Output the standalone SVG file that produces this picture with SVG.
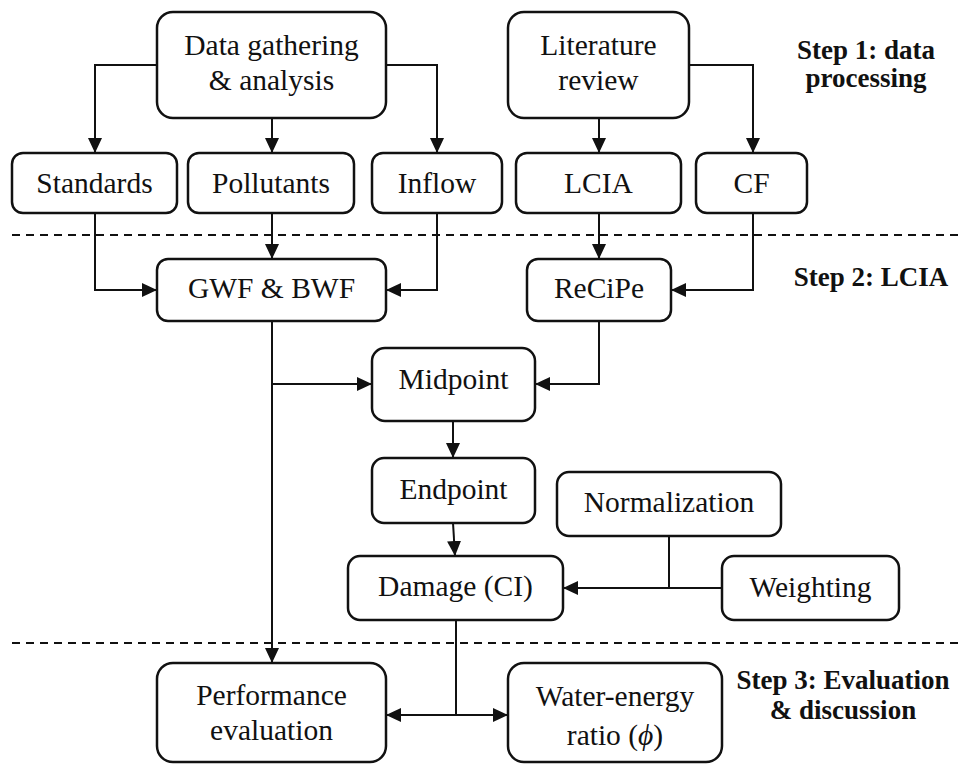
<svg xmlns="http://www.w3.org/2000/svg" width="962" height="765" viewBox="0 0 962 765">
<defs>
<style>
.box{fill:#fff;stroke:#111;stroke-width:2.5}
.t{font-family:"Liberation Serif","Times New Roman",serif;font-size:29.5px;fill:#111;text-anchor:middle}
.s{font-family:"Liberation Serif","Times New Roman",serif;font-size:27px;font-weight:bold;fill:#111;text-anchor:middle}
.c{fill:none;stroke:#111;stroke-width:2}
.d{fill:none;stroke:#111;stroke-width:2;stroke-dasharray:8 6}
</style>
<marker id="ah" markerUnits="userSpaceOnUse" markerWidth="15" markerHeight="14" refX="15" refY="7" orient="auto">
<path d="M0,0 L15,7 L0,14 z" fill="#111"/>
</marker>
<marker id="as" markerUnits="userSpaceOnUse" markerWidth="15" markerHeight="14" refX="0" refY="7" orient="auto">
<path d="M15,0 L0,7 L15,14 z" fill="#111"/>
</marker>
</defs>
<rect width="962" height="765" fill="#fff"/>
<g id="separators">
<line class="d" x1="12" y1="235" x2="962" y2="235"/>
<line class="d" x1="12" y1="643" x2="962" y2="643"/>
</g>
<g id="connectors">
<path class="c" d="M157,65 H95 V153" marker-end="url(#ah)"/>
<path class="c" d="M272,118 V153" marker-end="url(#ah)"/>
<path class="c" d="M386,65 H437 V153" marker-end="url(#ah)"/>
<path class="c" d="M599,118 V153" marker-end="url(#ah)"/>
<path class="c" d="M689,65 H753 V153" marker-end="url(#ah)"/>
<path class="c" d="M95,213 V290 H157" marker-end="url(#ah)"/>
<path class="c" d="M272,213 V259" marker-end="url(#ah)"/>
<path class="c" d="M437,213 V290 H386" marker-end="url(#ah)"/>
<path class="c" d="M599,213 V259" marker-end="url(#ah)"/>
<path class="c" d="M753,213 V290 H671" marker-end="url(#ah)"/>
<path class="c" d="M272,321 V663" marker-end="url(#ah)"/>
<path class="c" d="M272,384 H372" marker-end="url(#ah)"/>
<path class="c" d="M599,321 V384 H535" marker-end="url(#ah)"/>
<path class="c" d="M453,421 V458" marker-end="url(#ah)"/>
<path class="c" d="M453,523 L455,556" marker-end="url(#ah)"/>
<path class="c" d="M669,536 V588"/>
<path class="c" d="M722,588 H563" marker-end="url(#ah)"/>
<path class="c" d="M456,620 V715"/>
<path class="c" d="M386,715 H508" marker-start="url(#as)" marker-end="url(#ah)"/>
</g>
<g id="data-gathering">
<rect class="box" x="157" y="12" width="229" height="106" rx="16"/>
<text class="t" x="271.5" y="55">Data gathering</text>
<text class="t" x="271.5" y="90">&amp; analysis</text>
</g>
<g id="literature-review">
<rect class="box" x="508" y="12" width="181" height="106" rx="16"/>
<text class="t" x="598.5" y="55">Literature</text>
<text class="t" x="598.5" y="90">review</text>
</g>
<g id="standards">
<rect class="box" x="12" y="153" width="165" height="60" rx="11"/>
<text class="t" x="94.5" y="193">Standards</text>
</g>
<g id="pollutants">
<rect class="box" x="188" y="153" width="166" height="60" rx="11"/>
<text class="t" x="271" y="193">Pollutants</text>
</g>
<g id="inflow">
<rect class="box" x="372" y="153" width="130" height="60" rx="11"/>
<text class="t" x="437" y="193">Inflow</text>
</g>
<g id="lcia">
<rect class="box" x="516" y="153" width="165" height="60" rx="11"/>
<text class="t" x="598.5" y="193">LCIA</text>
</g>
<g id="cf">
<rect class="box" x="696" y="153" width="111" height="60" rx="11"/>
<text class="t" x="751.5" y="193">CF</text>
</g>
<g id="gwf-bwf">
<rect class="box" x="157" y="259" width="229" height="62" rx="11"/>
<text class="t" x="271.5" y="298">GWF &amp; BWF</text>
</g>
<g id="recipe">
<rect class="box" x="527" y="259" width="144" height="62" rx="11"/>
<text class="t" x="599" y="298">ReCiPe</text>
</g>
<g id="midpoint">
<rect class="box" x="372" y="348" width="163" height="73" rx="13"/>
<text class="t" x="453.5" y="389">Midpoint</text>
</g>
<g id="endpoint">
<rect class="box" x="372" y="458" width="163" height="65" rx="12"/>
<text class="t" x="453.5" y="499">Endpoint</text>
</g>
<g id="damage">
<rect class="box" x="348" y="556" width="215" height="64" rx="12"/>
<text class="t" x="455.5" y="596">Damage (CI)</text>
</g>
<g id="normalization">
<rect class="box" x="557" y="472" width="224" height="64" rx="12"/>
<text class="t" x="669" y="512">Normalization</text>
</g>
<g id="weighting">
<rect class="box" x="722" y="556" width="177" height="64" rx="12"/>
<text class="t" x="810.5" y="597">Weighting</text>
</g>
<g id="performance-evaluation">
<rect class="box" x="157" y="663" width="229" height="99" rx="16"/>
<text class="t" x="271.5" y="705">Performance</text>
<text class="t" x="271.5" y="740">evaluation</text>
</g>
<g id="water-energy-ratio">
<rect class="box" x="508" y="663" width="214" height="99" rx="16"/>
<text class="t" x="615" y="706">Water-energy</text>
<text class="t" x="615" y="745">ratio (<tspan font-style="italic">ϕ</tspan>)</text>
</g>
<g id="step-labels">
<text class="s" x="866" y="59">Step 1: data</text>
<text class="s" x="866" y="87">processing</text>
<text class="s" x="871" y="286">Step 2: LCIA</text>
<text class="s" x="843" y="689">Step 3: Evaluation</text>
<text class="s" x="843" y="719">&amp; discussion</text>
</g>
</svg>
